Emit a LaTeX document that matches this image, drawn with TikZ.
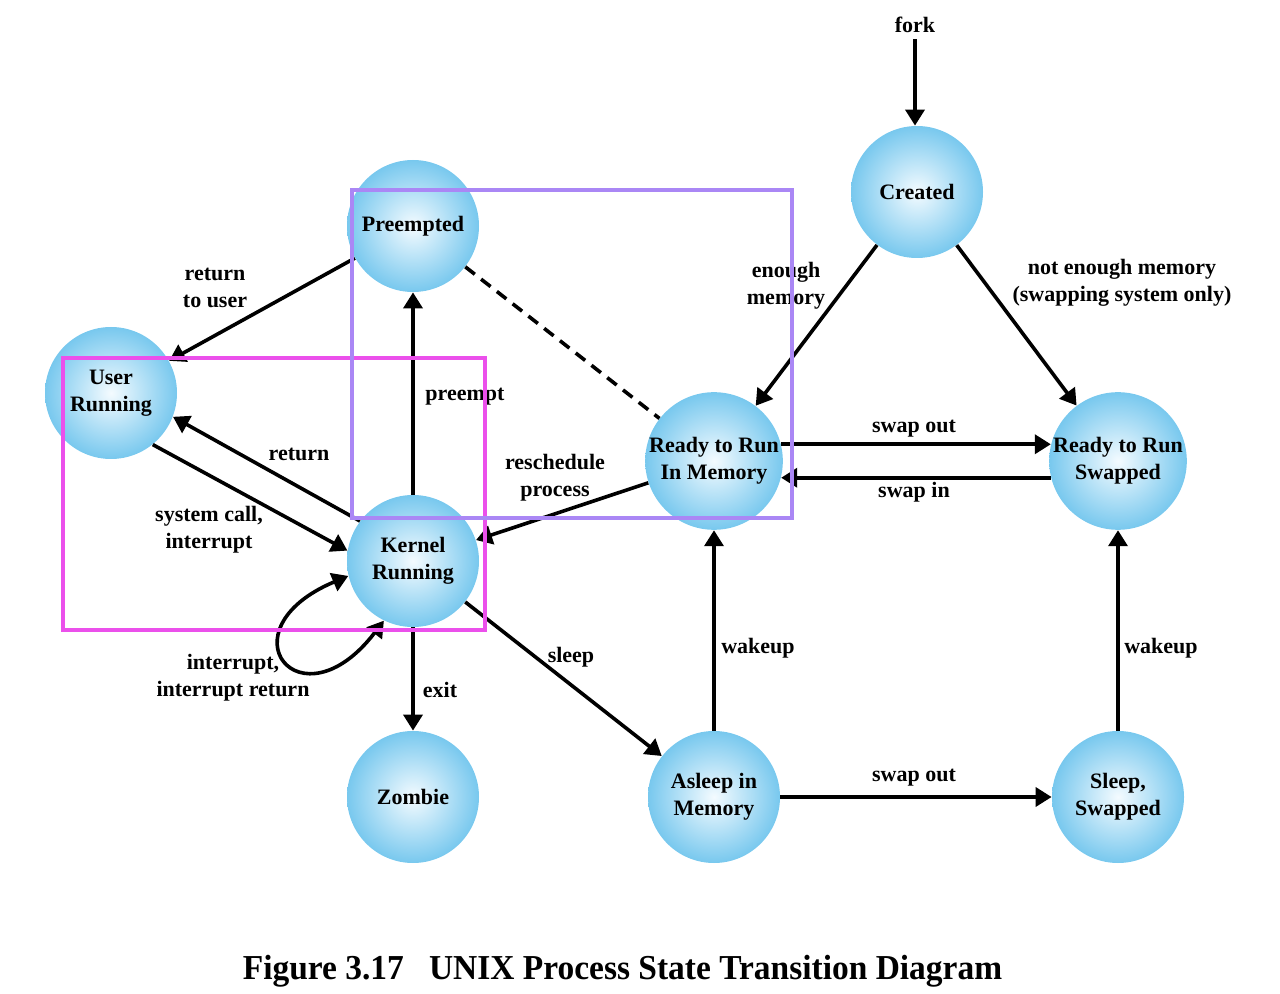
\documentclass[tikz,border=0pt]{standalone}
\usepackage{fontspec}
\setmainfont{Liberation Serif}
\usetikzlibrary{arrows.meta,calc}
\definecolor{ballout}{RGB}{120,200,238}
\definecolor{ballin}{RGB}{244,251,255}
\definecolor{boxpurple}{RGB}{170,135,245}
\definecolor{boxmagenta}{RGB}{235,80,235}
\begin{document}
\begin{tikzpicture}[x=0.5pt,y=-0.5pt,
  state/.style={circle, minimum size=66pt, inner sep=0pt, inner color=ballin, outer color=ballout,
    align=center, font=\fontsize{11}{13.5}\selectfont\bfseries},
  lbl/.style={align=center, font=\fontsize{11}{13.5}\selectfont\bfseries, inner sep=0pt},
  trans/.style={line width=1.8pt, -{Triangle[length=8pt,width=9.5pt]}},
  twoway/.style={line width=1.8pt, {Triangle[length=8pt,width=9.5pt]}-{Triangle[length=8pt,width=9.5pt]}},
  dashline/.style={line width=1.8pt, dash pattern=on 6pt off 4pt},
  hilite/.style={line width=1.6pt}]
\useasboundingbox (0,0) rectangle (1280,994);

% states
\node[state] (created) at (917,192) {Created};
\node[state] (pre) at (413,226) {Preempted};
\node[state] (user) at (111,393) {User\\Running};
\node[state] (kernel) at (413,561) {Kernel\\Running};
\node[state] (rmem) at (714,461) {Ready to Run\\In Memory};
\node[state] (rswap) at (1118,461) {Ready to Run\\Swapped};
\node[state] (zombie) at (413,797) {Zombie};
\node[state] (asleep) at (714,797) {Asleep in\\Memory};
\node[state] (sswap) at (1118,797) {Sleep,\\Swapped};

% fork
\node[lbl, inner sep=3pt] (fork) at (915,25) {fork};

% transitions
\draw[trans] (fork) -- (fork |- created.north);
\draw[trans] (created) -- (rmem);
\draw[trans] (created) -- (rswap);
\draw[trans] (rmem.14) -- (rswap.166);
\draw[trans] (rswap.194) -- (rmem.346);
\draw[trans] (pre) -- (user);
\draw[trans] (kernel) -- (pre);
\draw[dashline] (pre) -- (rmem);
\draw[trans] (user.309) -- (kernel.171);
\draw[trans] (kernel.143) -- (user.339);
\draw[trans] (rmem) -- (kernel);
\draw[trans] (kernel) -- (zombie);
\draw[trans] (kernel) -- (asleep);
\draw[trans] (asleep) -- (rmem);
\draw[trans] (asleep) -- (sswap);
\draw[trans] (sswap) -- (rswap);
\draw[twoway] (kernel.193) .. controls (220,630) and (300,730) .. (kernel.244);

% labels
\node[lbl] (lenough) at (786,286) {enough\\memory};
\node[lbl] (lnotenough) at (1122,283) {not enough memory\\(swapping system only)};
\node[lbl] (lrettouser) at (215,288) {return\\to user};
\node[lbl] (lpreempt) at (465,397) {preempt};
\node[lbl] (lreturn) at (299,454) {return};
\node[lbl] (lsyscall) at (209,530) {system call,\\interrupt};
\node[lbl] (lresched) at (555,478) {reschedule\\process};
\node[lbl] (lswapout) at (914,429) {swap out};
\node[lbl] (lswapin) at (914,492) {swap in};
\node[lbl] (lintr) at (233,678) {interrupt,\\interrupt return};
\node[lbl] (lexit) at (440,690) {exit};
\node[lbl] (lsleep) at (571,657) {sleep};
\node[lbl] (lwake1) at (758,648) {wakeup};
\node[lbl] (lwake2) at (1161,648) {wakeup};
\node[lbl] (lswapout2) at (914,778) {swap out};

% highlight boxes
\draw[hilite, boxmagenta] (63,358) rectangle (485,630);
\draw[hilite, boxpurple] (352,190) rectangle (792,518);

% caption
\node[anchor=base, inner sep=0pt, font=\fontsize{17.5}{21}\selectfont\bfseries] (cap) at (622.5,979)
  {\scalebox{0.956}[1]{Figure 3.17\hspace{0.75em}UNIX Process State Transition Diagram}};
\end{tikzpicture}
\end{document}
